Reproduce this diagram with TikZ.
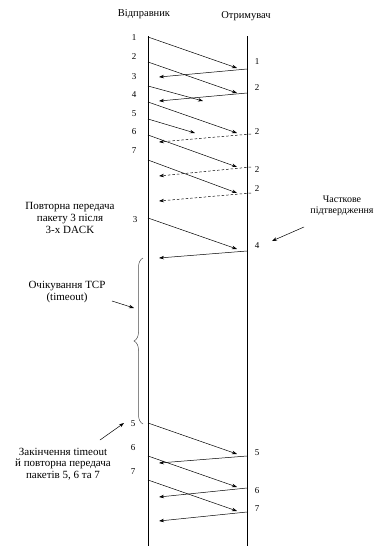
\documentclass[tikz,border=0pt]{standalone}
\usepackage{fontspec}
\setmainfont{Liberation Serif}
\usetikzlibrary{arrows.meta,decorations.pathreplacing}
\begin{document}
\begin{tikzpicture}[x=1pt,y=-1pt,
  msg/.style={line width=0.5pt,-{Stealth[length=5pt,width=3.5pt]}},
  dmsg/.style={msg,dash pattern=on 2.5pt off 2pt},
  lifeline/.style={line width=0.6pt},
  lbl/.style={font=\fontsize{9}{11.5}\selectfont,inner sep=0pt},
  head/.style={font=\fontsize{10.5}{12}\selectfont,inner sep=0pt},
  note/.style={font=\fontsize{11}{11.6}\selectfont,inner sep=0pt,align=center},
  rnote/.style={font=\fontsize{10}{11}\selectfont,inner sep=0pt,align=center},
  num/.style={lbl}]
\useasboundingbox (0,0) rectangle (385,546);
% headers
\node[head] (snd) at (144,14) {Відправник};
\node[head] (rcv) at (246,16) {Отримувач};
% lifelines
\coordinate (Lt) at (148,36); \coordinate (Lb) at (148,546);
\coordinate (Rt) at (247,36); \coordinate (Rb) at (247,546);
\draw[lifeline] (Lt) -- (Lb);
\draw[lifeline] (Rt) -- (Rb);
% message end points
\coordinate (p1s) at (148,37);  \coordinate (p1e) at (237,68);
\coordinate (a1s) at (247,69);  \coordinate (a1e) at (159,77);
\coordinate (p2s) at (148,62);  \coordinate (p2e) at (237,93);
\coordinate (a2s) at (247,93);  \coordinate (a2e) at (159,101);
\coordinate (p3s) at (148,86);  \coordinate (p3e) at (203,101);
\coordinate (p4s) at (148,102); \coordinate (p4e) at (237,133);
\coordinate (a4s) at (251,134); \coordinate (a4e) at (159,142);
\coordinate (p5s) at (148,119); \coordinate (p5e) at (195,133);
\coordinate (p6s) at (148,135); \coordinate (p6e) at (237,167);
\coordinate (a6s) at (251,167); \coordinate (a6e) at (159,176);
\coordinate (p7s) at (148,160); \coordinate (p7e) at (237,193);
\coordinate (a7s) at (251,193); \coordinate (a7e) at (159,201);
\coordinate (r3s) at (148,218); \coordinate (r3e) at (237,249);
\coordinate (a8s) at (247,251); \coordinate (a8e) at (159,258);
\coordinate (r5s) at (148,423); \coordinate (r5e) at (237,454);
\coordinate (b5s) at (247,456); \coordinate (b5e) at (159,463);
\coordinate (r6s) at (148,456); \coordinate (r6e) at (237,487);
\coordinate (b6s) at (247,488); \coordinate (b6e) at (159,497);
\coordinate (r7s) at (148,480); \coordinate (r7e) at (237,511);
\coordinate (b7s) at (247,512); \coordinate (b7e) at (159,521);
% messages
\draw[msg] (p1s) -- (p1e);
\draw[msg] (a1s) -- (a1e);
\draw[msg] (p2s) -- (p2e);
\draw[msg] (a2s) -- (a2e);
\draw[msg] (p3s) -- (p3e);
\draw[msg] (p4s) -- (p4e);
\draw[dmsg] (a4s) -- (a4e);
\draw[msg] (p5s) -- (p5e);
\draw[msg] (p6s) -- (p6e);
\draw[dmsg] (a6s) -- (a6e);
\draw[msg] (p7s) -- (p7e);
\draw[dmsg] (a7s) -- (a7e);
\draw[msg] (r3s) -- (r3e);
\draw[msg] (a8s) -- (a8e);
\draw[msg] (r5s) -- (r5e);
\draw[msg] (b5s) -- (b5e);
\draw[msg] (r6s) -- (r6e);
\draw[msg] (b6s) -- (b6e);
\draw[msg] (r7s) -- (r7e);
\draw[msg] (b7s) -- (b7e);
% sender numbers
\node[num] (s1) at (134,38) {1};
\node[num] (s2) at (134,57) {2};
\node[num] (s3) at (134,77) {3};
\node[num] (s4) at (134,95) {4};
\node[num] (s5) at (134,114) {5};
\node[num] (s6) at (134,132) {6};
\node[num] (s7) at (134,151) {7};
\node[num] (s3b) at (135,220) {3};
\node[num] (s5b) at (133,424) {5};
\node[num] (s6b) at (133,448) {6};
\node[num] (s7b) at (133,472) {7};
% receiver numbers
\node[num] (q1) at (257,62) {1};
\node[num] (q2) at (257,88) {2};
\node[num] (q3) at (257,132) {2};
\node[num] (q4) at (257,170) {2};
\node[num] (q5) at (257,189) {2};
\node[num] (q6) at (257,246) {4};
\node[num] (q7) at (257,453) {5};
\node[num] (q8) at (257,491) {6};
\node[num] (q9) at (257,509) {7};
% brace
\coordinate (bb) at (143,424); \coordinate (bt) at (143,258);
\draw[line width=0.5pt,black!70,decorate,decoration={brace,amplitude=9pt}] (bb) -- (bt);
% notes
\node[note] (n1) at (70,218) {Повторна передача\\пакету 3 після\\3-х DACK};
\node[rnote] (n2) at (342,206) {Часткове\\підтвердження};
\coordinate (n2t) at (272,241);
\draw[msg] (304,227) -- (n2t);
\node[note] (n3) at (67,292) {Очікування TCP\\(timeout)};
\coordinate (n3t) at (134,308);
\draw[msg] (112,301) -- (n3t);
\node[note] (n4) at (63,464) {Закінчення timeout\\й повторна передача\\пакетів 5, 6 та 7};
\coordinate (n4t) at (124,423);
\draw[msg] (100,440) -- (n4t);
\end{tikzpicture}
\end{document}
